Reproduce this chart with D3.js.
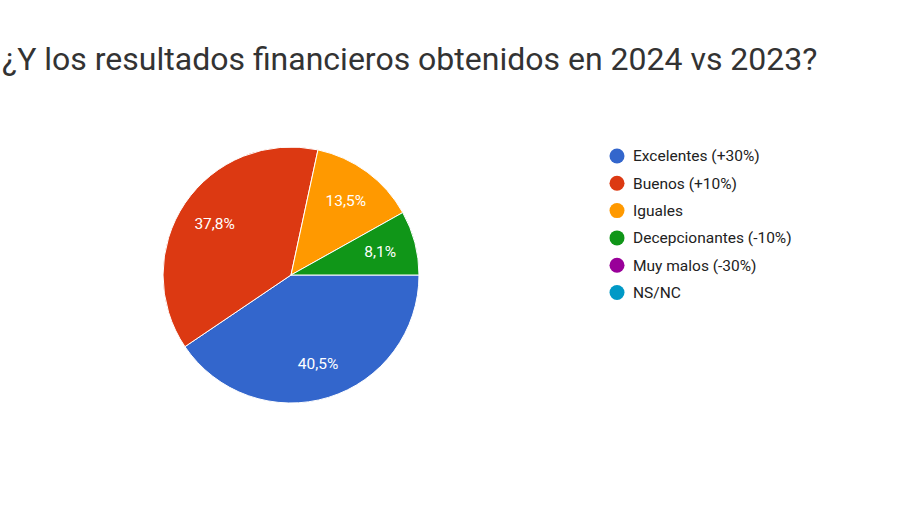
<!DOCTYPE html>
<html>
<head>
<meta charset="utf-8">
<script src="https://cdn.jsdelivr.net/npm/d3@7"></script>
<style>body{margin:0;background:#fff;}</style>
</head>
<body>
<div id="chart"></div>
<script>
// data
var categories = ["Excelentes (+30%)", "Buenos (+10%)", "Iguales", "Decepcionantes (-10%)", "Muy malos (-30%)", "NS/NC"];
var values = [40.5, 37.8, 13.5, 8.1, 0, 0];
var colors = ["#3366cc", "#dc3912", "#ff9900", "#109618", "#990099", "#0099c6"];

var width = 900, height = 506;
var svg = d3.select("#chart").append("svg")
    .attr("width", width).attr("height", height)
    .style("font-family", "Roboto, sans-serif");

svg.append("text")
    .attr("x", 2).attr("y", 70)
    .attr("font-size", 32)
    .attr("fill", "#333")
    .text("¿Y los resultados financieros obtenidos en 2024 vs 2023?");

var data = categories.map(function(c, i) { return {name: c, value: values[i], color: colors[i]}; });

var radius = 128;
var g = svg.append("g").attr("transform", "translate(291,275)");

var pie = d3.pie().sort(null).value(function(d) { return d.value; })
    .startAngle(Math.PI / 2).endAngle(Math.PI / 2 + 2 * Math.PI);
var arc = d3.arc().innerRadius(0).outerRadius(radius);
var labelArc = d3.arc().innerRadius(radius * 0.72).outerRadius(radius * 0.72);

var arcs = pie(data).filter(function(d) { return d.data.value > 0; });

g.selectAll("path").data(arcs).enter().append("path")
    .attr("d", arc)
    .attr("fill", function(d) { return d.data.color; })
    .attr("stroke", "#fff").attr("stroke-width", 1);

g.selectAll("text.lbl").data(arcs).enter().append("text")
    .attr("class", "lbl")
    .attr("transform", function(d) { return "translate(" + labelArc.centroid(d) + ")"; })
    .attr("text-anchor", "middle").attr("dy", "0.35em")
    .attr("font-size", 15.5).attr("fill", "#fff")
    .text(function(d) { return d3.format(".1f")(d.data.value).replace(".", ",") + "%"; });

var legend = svg.append("g").attr("transform", "translate(617,156)");
var item = legend.selectAll("g").data(data).enter().append("g")
    .attr("transform", function(d, i) { return "translate(0," + (i * 27.3) + ")"; });
item.append("circle").attr("r", 7.5).attr("fill", function(d) { return d.color; });
item.append("text").attr("x", 16).attr("dy", "0.35em")
    .attr("font-size", 15.5).attr("fill", "#222")
    .text(function(d) { return d.name; });
</script>
</body>
</html>
